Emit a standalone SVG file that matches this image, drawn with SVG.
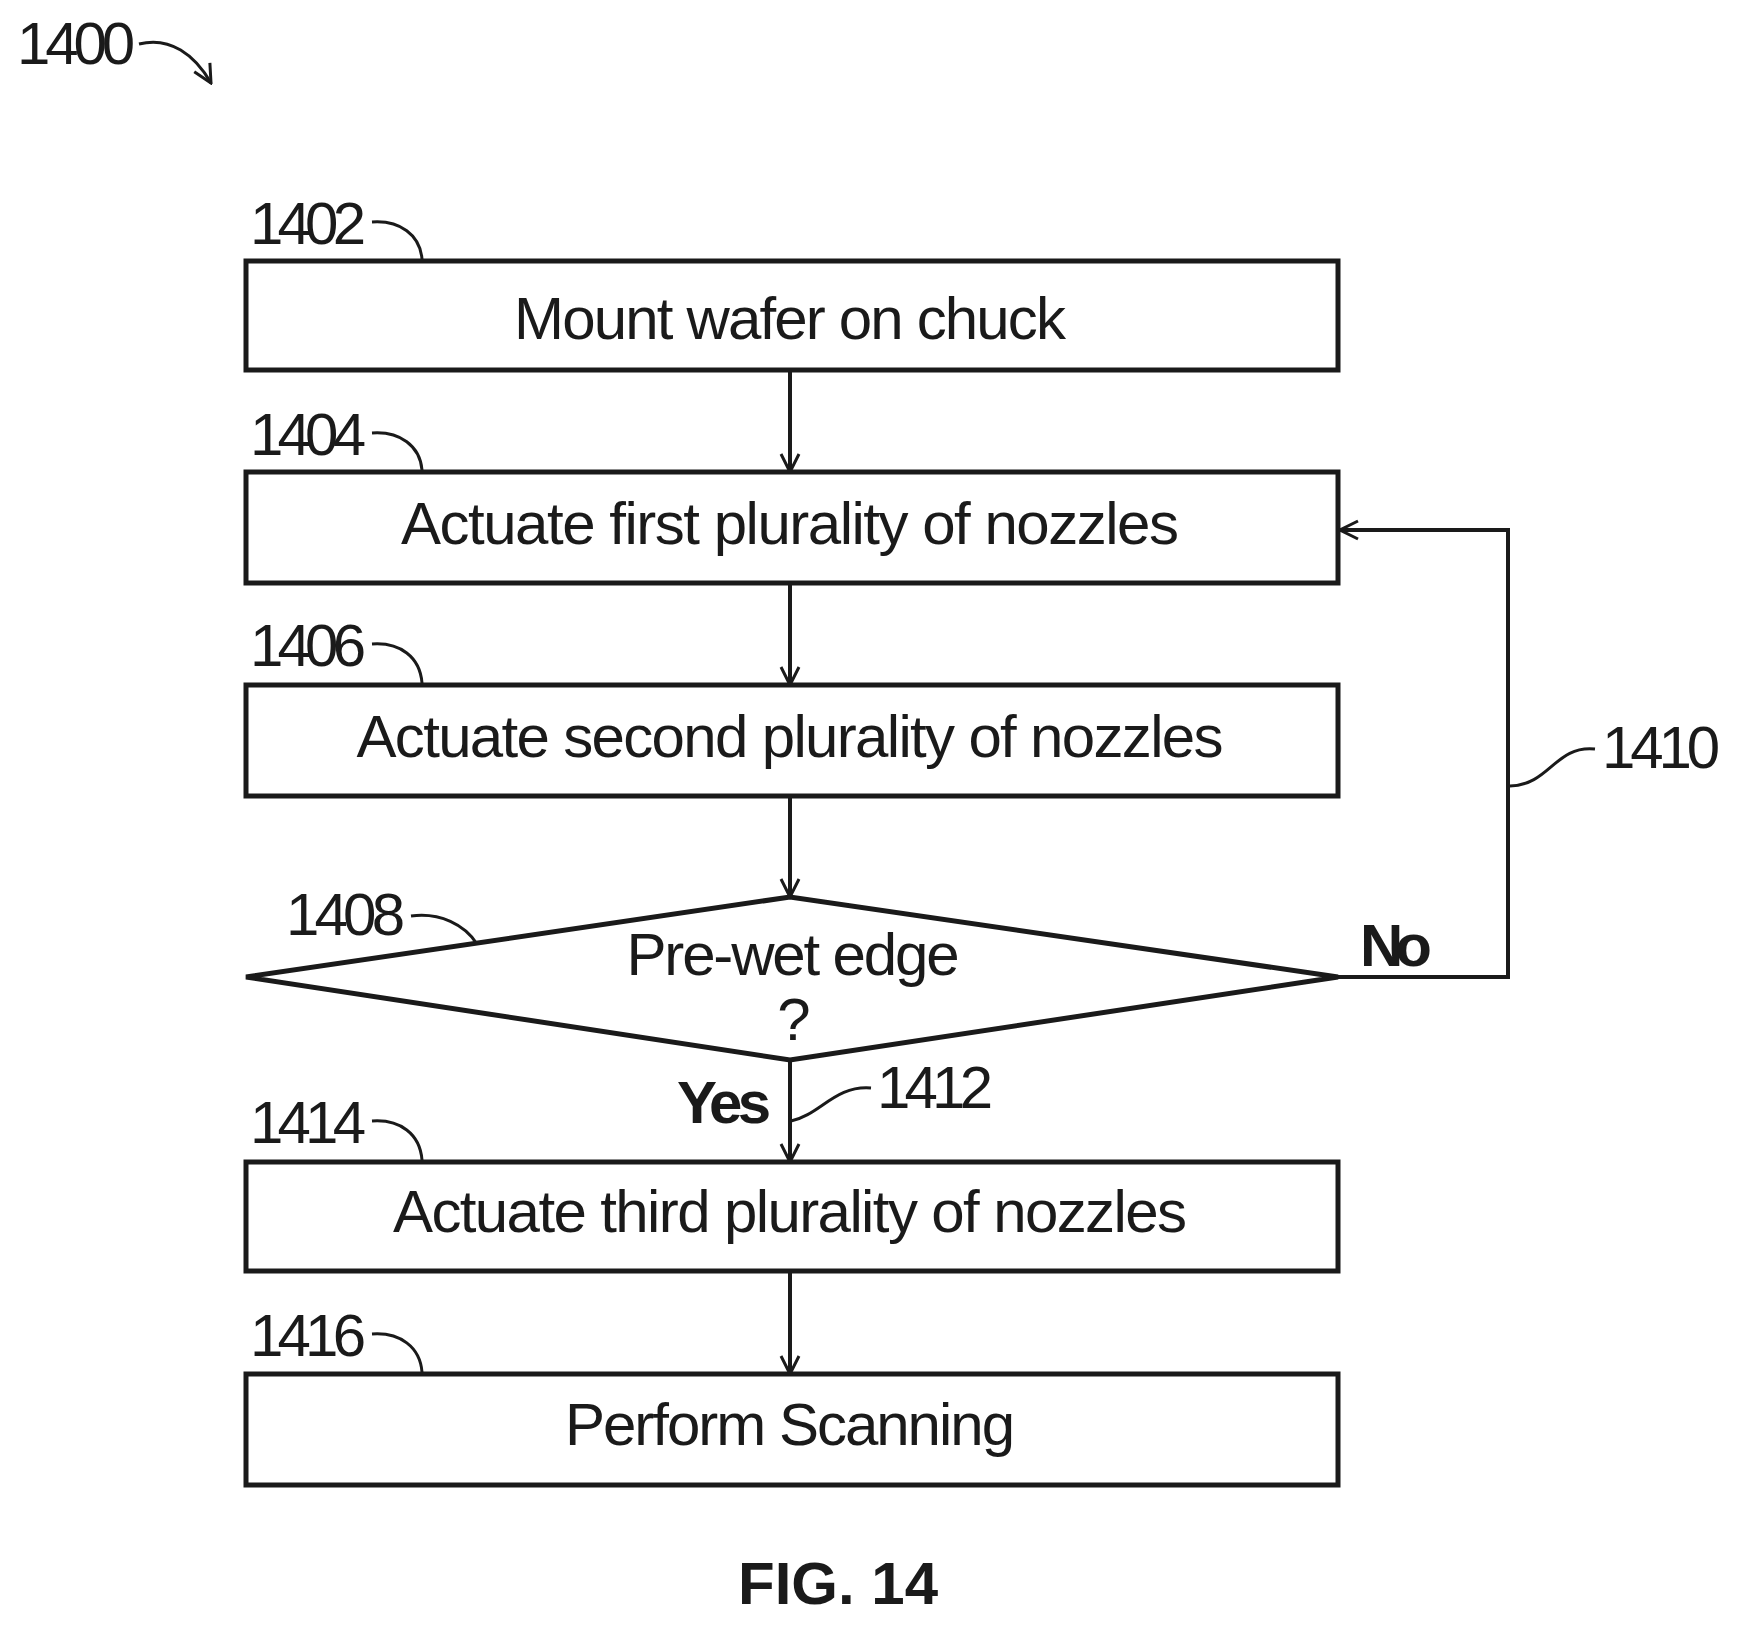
<svg xmlns="http://www.w3.org/2000/svg" width="1745" height="1632" viewBox="0 0 1745 1632">
<style>
.b{fill:#fff;stroke:#1a1a1a;stroke-width:5}
.t{font-family:"Liberation Sans",Arial,sans-serif;font-size:60px;fill:#1a1a1a}
.m{text-anchor:middle}
.l{fill:none;stroke:#1a1a1a;stroke-width:3}
.c{fill:none;stroke:#1a1a1a;stroke-width:4}
.bd{font-weight:bold}
</style>
<defs><marker id="a" markerWidth="10" markerHeight="10" refX="9" refY="5" orient="auto" markerUnits="userSpaceOnUse" viewBox="0 0 10 10"><path d="M0,0 L10,5 L0,10" fill="none" stroke="#1a1a1a" stroke-width="2"/></marker>
<marker id="ah" markerWidth="22" markerHeight="22" refX="20" refY="11" orient="auto" markerUnits="userSpaceOnUse"><path d="M2,2 L20,11 L2,20" fill="none" stroke="#1a1a1a" stroke-width="3"/></marker></defs>
<text class="t" x="17" y="64" textLength="118">1400</text>
<path class="l" d="M139,44 C170,36 195,55 211,83" marker-end="url(#ah)"/>
<g id="connectors">
<path class="c" d="M790,370 V472" marker-end="url(#ah)"/>
<path class="c" d="M790,583 V685" marker-end="url(#ah)"/>
<path class="c" d="M790,796 V897" marker-end="url(#ah)"/>
<path class="c" d="M790,1060 V1162" marker-end="url(#ah)"/>
<path class="c" d="M790,1271 V1374" marker-end="url(#ah)"/>
<path class="c" d="M1338,977 H1508 V530 H1340" marker-end="url(#ah)"/>
<text class="t bd" x="677" y="1123" textLength="94">Yes</text>
<text class="t bd" x="1360" y="966" textLength="72">No</text>
<text class="t" x="877" y="1108" textLength="116">1412</text>
<path class="l" d="M871,1088 C835,1085 820,1115 791,1121"/>
<text class="t" x="1602" y="768" textLength="118">1410</text>
<path class="l" d="M1595,749 C1555,745 1550,785 1510,786"/>
</g>
<g id="n1402"><rect class="b" x="246" y="261" width="1092" height="109"/><text class="t m" x="790" y="339" textLength="552">Mount wafer on chuck</text><text class="t" x="250" y="244" textLength="116">1402</text><path class="l" d="M372,222 C400,220 420,235 422,259"/></g>
<g id="n1404"><rect class="b" x="246" y="472" width="1092" height="111"/><text class="t m" x="790" y="544" textLength="778">Actuate first plurality of nozzles</text><text class="t" x="250" y="455" textLength="116">1404</text><path class="l" d="M372,433 C400,431 420,446 422,470"/></g>
<g id="n1406"><rect class="b" x="246" y="685" width="1092" height="111"/><text class="t m" x="790" y="757" textLength="867">Actuate second plurality of nozzles</text><text class="t" x="250" y="666" textLength="116">1406</text><path class="l" d="M372,644 C400,642 420,657 422,683"/></g>
<g id="n1408"><polygon class="b" points="246,977 790,897 1338,977 790,1060"/><text class="t m" x="793" y="975" textLength="333">Pre-wet edge</text><text class="t m" x="794" y="1040">?</text><text class="t" x="286" y="935" textLength="119">1408</text><path class="l" d="M411,916 C440,912 465,925 477,944"/></g>
<g id="n1414"><rect class="b" x="246" y="1162" width="1092" height="109"/><text class="t m" x="790" y="1232" textLength="794">Actuate third plurality of nozzles</text><text class="t" x="250" y="1143" textLength="116">1414</text><path class="l" d="M372,1121 C400,1119 420,1134 422,1160"/></g>
<g id="n1416"><rect class="b" x="246" y="1374" width="1092" height="111"/><text class="t m" x="790" y="1445" textLength="450">Perform Scanning</text><text class="t" x="250" y="1356" textLength="116">1416</text><path class="l" d="M372,1334 C400,1332 420,1347 422,1372"/></g>
<text class="t bd" x="738" y="1604" textLength="200">FIG. 14</text>
</svg>
